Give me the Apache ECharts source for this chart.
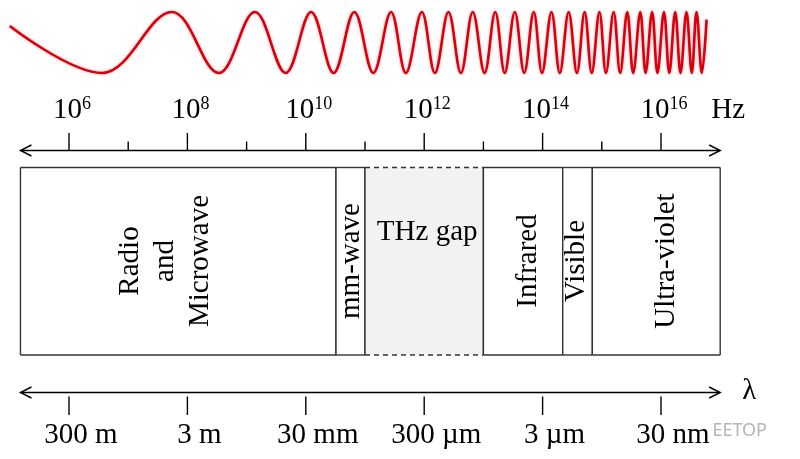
<!DOCTYPE html>
<html>
<head>
    <meta charset="utf-8" />
    <title>Electromagnetic spectrum</title>
    <script src="https://cdn.jsdelivr.net/npm/echarts@6/dist/echarts.min.js"></script>
    <style>
        html, body { margin: 0; padding: 0; background: #fff; }
        #chart { width: 800px; height: 459px; }
    </style>
</head>
<body>
<div id="chart"></div>
<script>
    // x axis is log10(frequency / Hz)
    var freqTicks = [6, 8, 10, 12, 14, 16];
    var freqMinorTicks = [7, 9, 11, 13, 15];
    var freqExpLabels = ['6', '8', '10', '12', '14', '16'];
    var lambdaTicks = [6, 8, 10, 12, 14, 16];
    var lambdaLabels = ['300 m', '3 m', '30 mm', '300 \u00b5m', '3 \u00b5m', '30 nm'];

    var bandNames = ['Radio\nand\nMicrowave', 'mm-wave', 'THz gap', 'Infrared', 'Visible', 'Ultra-violet'];
    var bandStart = [5.18, 10.51, 11.0, 13.0, 14.34, 14.84];
    var bandEnd = [10.51, 11.0, 13.0, 14.34, 14.84, 17.0];

    var axisStart = 5.18;
    var axisEnd = 17.0;

    // chirp wave: extrema (position in log10 Hz, normalised height)
    var waveExp = [5.00, 6.56, 7.74, 8.53, 9.14, 9.66, 10.09, 10.47, 10.82, 11.14, 11.44,
        11.69, 11.96, 12.18, 12.41, 12.62, 12.82, 13.02, 13.20, 13.36, 13.53, 13.69, 13.85,
        13.99, 14.15, 14.29, 14.44, 14.58, 14.71, 14.83, 14.96, 15.07, 15.20, 15.31, 15.43,
        15.53, 15.65, 15.74, 15.85, 15.94, 16.05, 16.14, 16.24, 16.33, 16.43, 16.52, 16.60,
        16.69, 16.77];
    var waveAmp = [0.54, -1, 1, -1, 1, -1, 1, -1, 1, -1, 1,
        -1, 1, -1, 1, -1, 1, -1, 1, -1, 1, -1, 1,
        -1, 1, -1, 1, -1, 1, -1, 1, -1, 1, -1, 1,
        -1, 1, -1, 1, -1, 1, -1, 1, -1, 1, -1, 1,
        -1, 0.75];

    // layout (y in pixels from the top)
    var WAVE_MID = 42.5, WAVE_H = 30.5;
    var TOP_Y = 150.5, BOT_Y = 392.5;
    var BOX_TOP = 167.5, BOX_BOT = 355;
    var FONT = '"Liberation Serif", "Times New Roman", serif';
    var INK = '#000';
    var LINE = '#333';

    var myChart = echarts.init(document.getElementById('chart'));

    function chevrons(a, b, y) {
        return [
            { type: 'polyline', shape: { points: [[a[0] + 11, y - 5.5], [a[0], y], [a[0] + 11, y + 5.5]] },
                style: { stroke: INK, lineWidth: 1.4, fill: null } },
            { type: 'polyline', shape: { points: [[b[0] - 11, y - 5.5], [b[0], y], [b[0] - 11, y + 5.5]] },
                style: { stroke: INK, lineWidth: 1.4, fill: null } },
            { type: 'line', shape: { x1: a[0], y1: y, x2: b[0], y2: y },
                style: { stroke: INK, lineWidth: 1.4 } }
        ];
    }

    function renderAxes(params, api) {
        var children = [];
        var a = api.coord([axisStart, TOP_Y]);
        var b = api.coord([axisEnd, TOP_Y]);
        children = children.concat(chevrons(a, b, a[1]));
        var c = api.coord([axisStart, BOT_Y]);
        var d = api.coord([axisEnd, BOT_Y]);
        children = children.concat(chevrons(c, d, c[1]));
        children.push({ type: 'text', x: b[0] + 8, y: 110,
            style: { text: 'Hz', font: '29px ' + FONT, fill: INK, align: 'center', verticalAlign: 'middle' } });
        children.push({ type: 'text', x: d[0] + 29, y: 391,
            style: { text: '\u03bb', font: '29px ' + FONT, fill: INK, align: 'center', verticalAlign: 'middle' } });
        return { type: 'group', children: children };
    }

    function renderFreqTick(params, api) {
        var e = api.value(0);
        var major = api.value(1) === 1;
        var p = api.coord([e, TOP_Y]);
        var children = [{ type: 'line', shape: { x1: p[0], y1: p[1] - (major ? 17.5 : 9), x2: p[0], y2: p[1] },
            style: { stroke: INK, lineWidth: 1.4 } }];
        if (major) {
            children.push({ type: 'text', x: p[0] + 3, y: 110, style: {
                text: '10{sup|' + freqExpLabels[freqTicks.indexOf(e)] + '}',
                font: '29px ' + FONT, fill: INK, align: 'center', verticalAlign: 'middle', lineHeight: 30,
                rich: { sup: { fontSize: 18, fontFamily: FONT, fill: INK, verticalAlign: 'top', lineHeight: 22 } }
            } });
        }
        return { type: 'group', children: children };
    }

    function renderLambdaTick(params, api) {
        var i = params.dataIndex;
        var p = api.coord([api.value(0), BOT_Y]);
        return { type: 'group', children: [
            { type: 'line', shape: { x1: p[0], y1: p[1] + 4, x2: p[0], y2: p[1] + 22.5 },
                style: { stroke: INK, lineWidth: 1.4 } },
            { type: 'text', x: p[0] + 12, y: 435, style: {
                text: lambdaLabels[i], font: '29px ' + FONT, fill: INK, align: 'center', verticalAlign: 'middle' } }
        ] };
    }

    // label nudges in pixels, as drawn in the picture
    var labelShift = [-12.5, 1, 3, 5, -1, 10];

    function renderBand(params, api) {
        var i = params.dataIndex;
        var p0 = api.coord([api.value(0), BOX_TOP]);
        var p1 = api.coord([api.value(1), BOX_BOT]);
        var gap = bandNames[i] === 'THz gap';
        var cx = (p0[0] + p1[0]) / 2 + labelShift[i];
        var edge = { stroke: LINE, lineWidth: 1.4 };
        var dashed = { stroke: LINE, lineWidth: 1.4, lineDash: [5, 4] };
        var label = gap
            ? { type: 'text', x: cx, y: 232, style: { text: bandNames[i], font: '29px ' + FONT, fill: INK,
                align: 'center', verticalAlign: 'middle' } }
            : { type: 'text', x: cx, y: 261, rotation: Math.PI / 2, style: { text: bandNames[i],
                font: '29px ' + FONT, fill: INK, align: 'center', verticalAlign: 'middle', lineHeight: 35 } };
        return { type: 'group', children: [
            { type: 'rect', shape: { x: p0[0], y: p0[1], width: p1[0] - p0[0], height: p1[1] - p0[1] },
                style: { fill: gap ? '#f2f2f2' : '#fff' } },
            { type: 'line', shape: { x1: p0[0], y1: p0[1], x2: p1[0], y2: p0[1] }, style: gap ? dashed : edge },
            { type: 'line', shape: { x1: p0[0], y1: p1[1], x2: p1[0], y2: p1[1] }, style: gap ? dashed : edge },
            { type: 'line', shape: { x1: p0[0], y1: p0[1], x2: p0[0], y2: p1[1] }, style: edge },
            { type: 'line', shape: { x1: p1[0], y1: p0[1], x2: p1[0], y2: p1[1] }, style: edge },
            label
        ] };
    }

    var waveData = waveExp.map(function (e, i) { return [e, WAVE_MID - WAVE_H * waveAmp[i]]; });
    var tickData = freqTicks.map(function (e) { return [e, 1]; })
        .concat(freqMinorTicks.map(function (e) { return [e, 0]; }));

    var option = {
        animation: false,
        backgroundColor: '#fff',
        title: {
            text: 'EETOP', right: 28, top: 417,
            textStyle: { fontFamily: '"Noto Sans", sans-serif', fontWeight: 'normal', fontSize: 18, color: '#b5b5b5' }
        },
        grid: { left: 0, right: 0, top: 0, bottom: 0 },
        xAxis: { type: 'value', min: 4.8345, max: 18.348, show: false },
        yAxis: { type: 'value', min: 0, max: 459, inverse: true, show: false },
        series: [
            {
                name: 'wave', type: 'line', data: waveData, smooth: 0.37, symbol: 'none',
                lineStyle: { color: '#d7000f', width: 2.6, shadowColor: 'rgba(255,60,60,0.45)', shadowBlur: 3 }
            },
            { name: 'bands', type: 'custom', renderItem: renderBand, encode: { x: [0, 1] },
                data: bandStart.map(function (s, i) { return [s, bandEnd[i]]; }) },
            { name: 'axes', type: 'custom', renderItem: renderAxes, data: [[axisStart, axisEnd]] },
            { name: 'freq', type: 'custom', renderItem: renderFreqTick, encode: { x: 0 }, data: tickData },
            { name: 'lambda', type: 'custom', renderItem: renderLambdaTick, encode: { x: 0 },
                data: lambdaTicks.map(function (e) { return [e]; }) }
        ]
    };
    myChart.setOption(option);
</script>
</body>
</html>
